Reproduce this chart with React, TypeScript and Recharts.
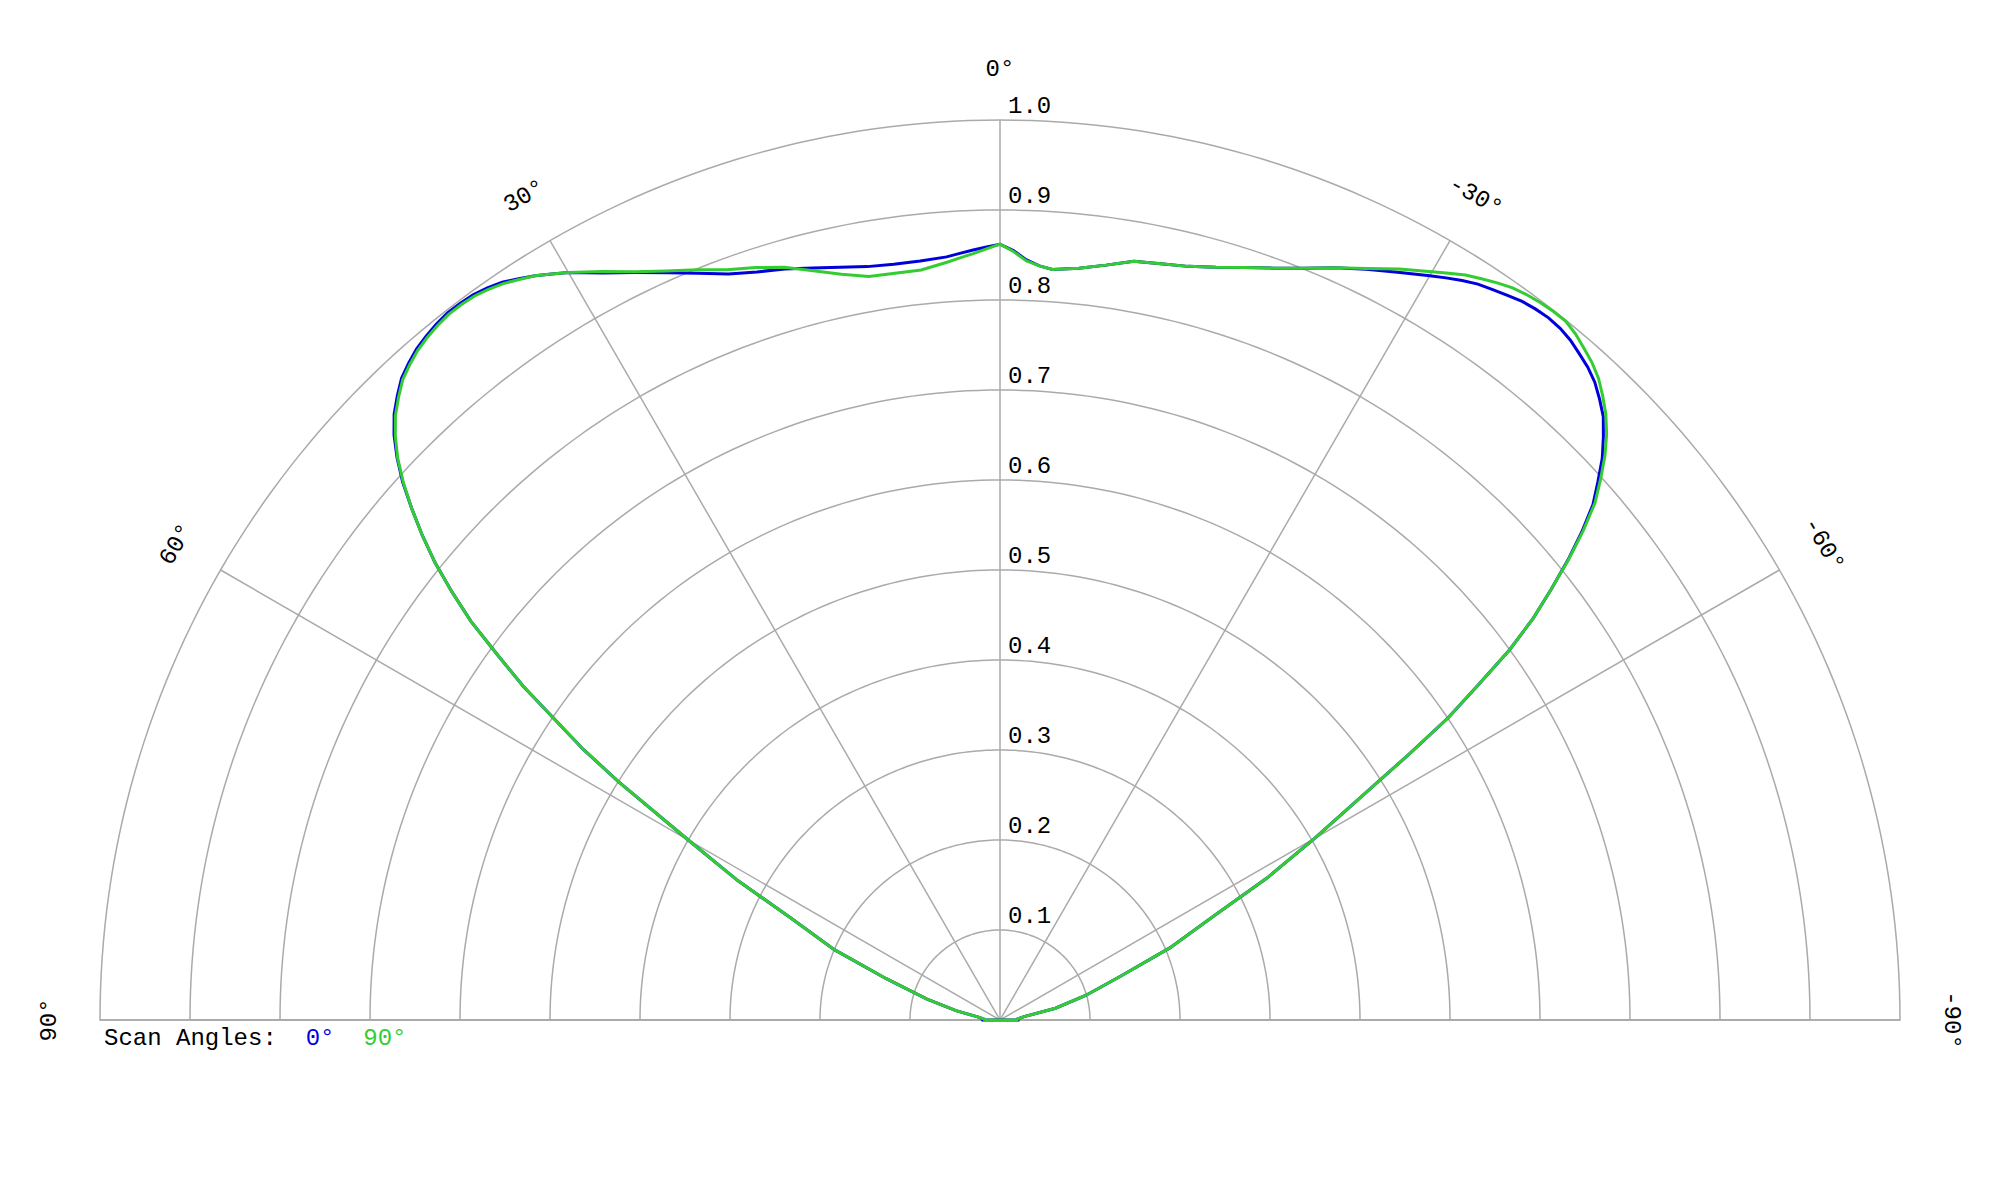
import React from 'react';
import {
  RadarChart,
  Radar,
  PolarGrid,
  PolarAngleAxis,
  PolarRadiusAxis,
  Legend,
} from 'recharts';

// scan angle in degrees: + is left of broadside, - is right
const angles = [
  -90, -86, -82, -78, -74, -70, -67, -64, -62, -60, -58,
  -57, -56, -55, -54, -53, -52, -51, -50, -49, -48, -47, -46, -45, -44,
  -43, -42, -41, -40, -39, -38, -37, -36, -35, -34, -33, -32, -31, -30,
  -28, -26, -24, -22, -20, -18, -16, -14, -12, -10, -8, -6, -4,
  -3, -2, -1, 0, 1, 2, 3,
  4, 6, 8, 10, 12, 14, 16, 18, 20, 22, 24, 26, 28,
  30, 31, 32, 33, 34, 35, 36, 37, 38, 39, 40, 41, 42, 43,
  44, 45, 46, 47, 48, 49, 50, 51, 52, 53, 54, 55, 56, 57,
  58, 60, 62, 64, 67, 70, 74, 78, 82, 86, 90,
];

const scan0 = [
  0.020, 0.020, 0.027, 0.063, 0.099, 0.143, 0.205, 0.266, 0.336, 0.404, 0.486,
  0.541, 0.601, 0.648, 0.700, 0.742, 0.777, 0.812, 0.844, 0.873, 0.894, 0.915, 0.932, 0.948, 0.959,
  0.969, 0.976, 0.981, 0.986, 0.989, 0.990, 0.989, 0.987, 0.983, 0.979, 0.975, 0.969, 0.962, 0.955,
  0.941, 0.928, 0.915, 0.901, 0.889, 0.879, 0.870, 0.863, 0.859, 0.856, 0.847, 0.840, 0.836,
  0.839, 0.845, 0.855, 0.862, 0.859, 0.856, 0.853,
  0.850, 0.848, 0.848, 0.850, 0.855, 0.861, 0.868, 0.874, 0.882, 0.895, 0.909, 0.924, 0.940,
  0.959, 0.967, 0.975, 0.982, 0.989, 0.993, 0.996, 0.997, 0.997, 0.995, 0.992, 0.988, 0.982, 0.975,
  0.964, 0.952, 0.936, 0.916, 0.893, 0.866, 0.838, 0.808, 0.773, 0.736, 0.690, 0.647, 0.596, 0.552,
  0.500, 0.400, 0.330, 0.259, 0.200, 0.135, 0.085, 0.050, 0.025, 0.019, 0.019,
];

const scan90 = [
  0.019, 0.020, 0.027, 0.063, 0.099, 0.143, 0.205, 0.266, 0.336, 0.404, 0.486,
  0.541, 0.601, 0.648, 0.700, 0.742, 0.777, 0.813, 0.846, 0.876, 0.898, 0.919, 0.937, 0.952, 0.964,
  0.975, 0.983, 0.989, 0.995, 0.999, 0.999, 0.998, 0.996, 0.993, 0.988, 0.982, 0.976, 0.968, 0.960,
  0.945, 0.929, 0.915, 0.901, 0.889, 0.879, 0.870, 0.863, 0.859, 0.856, 0.847, 0.840, 0.836,
  0.839, 0.844, 0.854, 0.862, 0.857, 0.852, 0.848,
  0.844, 0.838, 0.838, 0.839, 0.847, 0.858, 0.870, 0.879, 0.887, 0.899, 0.911, 0.925, 0.942,
  0.959, 0.967, 0.975, 0.981, 0.987, 0.991, 0.994, 0.995, 0.995, 0.993, 0.990, 0.986, 0.980, 0.973,
  0.962, 0.950, 0.934, 0.915, 0.892, 0.866, 0.838, 0.808, 0.773, 0.736, 0.690, 0.647, 0.596, 0.552,
  0.500, 0.400, 0.330, 0.259, 0.200, 0.135, 0.085, 0.050, 0.025, 0.018, 0.017,
];

const angleTicks = [-90, -60, -30, 0, 30, 60, 90];
const radiusTicks = [0.1, 0.2, 0.3, 0.4, 0.5, 0.6, 0.7, 0.8, 0.9, 1.0];

const rows = angles.map((angle, i) => ({
  angle,
  scan0: scan0[i],
  scan90: scan90[i],
}));

// polar angles (deg) used to trace the half-circle rings
const arcAngles = Array.from({ length: 181 }, (_, i) => i);

const FONT = "'Courier New', 'Liberation Mono', monospace";
const BLUE = '#0000dd';
const GREEN = '#33cc33';
const GRID = '#aaaaaa';

const AngleTick = (props: any) => {
  const { x, y, payload } = props;
  return (
    <text
      x={x}
      y={y}
      textAnchor="middle"
      dominantBaseline="central"
      fontFamily={FONT}
      fontSize={24}
      fill="#000"
      transform={`rotate(${-payload.value}, ${x}, ${y})`}
    >
      {`${payload.value}°`}
    </text>
  );
};

const RadiusTick = (props: any) => {
  const { x, y, payload } = props;
  return (
    <text x={x + 8} y={y - 7} textAnchor="start" fontFamily={FONT} fontSize={24} fill="#000">
      {Number(payload.value).toFixed(1)}
    </text>
  );
};

const ScanLegend = () => (
  <svg width={400} height={40}>
    <text x={4} y={28} fontFamily={FONT} fontSize={24} fill="#000" xmlSpace="preserve">
      <tspan>{'Scan Angles:  '}</tspan>
      <tspan fill={BLUE}>{'0°'}</tspan>
      <tspan>{'  '}</tspan>
      <tspan fill={GREEN}>{'90°'}</tspan>
    </text>
  </svg>
);

export default function App() {
  return (
    <div style={{ position: 'absolute', left: 0, top: 0, background: '#fff' }}>
      <RadarChart
        width={2000}
        height={1200}
        data={rows}
        cx={1000}
        cy={1020}
        outerRadius={900}
        startAngle={0}
        endAngle={180}
        margin={{ top: 0, right: 0, bottom: 0, left: 0 }}
      >
        <PolarGrid gridType="polygon" polarAngles={arcAngles} radialLines={false} stroke={GRID} strokeWidth={1.5} />
        <PolarGrid gridType="polygon" polarRadius={[]} stroke={GRID} strokeWidth={1.5} />
        <PolarAngleAxis
          type="number"
          dataKey="angle"
          domain={[-90, 90]}
          ticks={angleTicks}
          tick={AngleTick}
          tickLine={false}
          axisLine={false}
          tickSize={51}
        />
        <PolarRadiusAxis
          angle={90}
          type="number"
          domain={[0, 1]}
          ticks={radiusTicks}
          tick={RadiusTick}
          axisLine={false}
        />
        <Radar
          dataKey="scan0"
          stroke={BLUE}
          strokeWidth={3}
          fill="none"
          fillOpacity={0}
          dot={false}
          isAnimationActive={false}
        />
        <Radar
          dataKey="scan90"
          stroke={GREEN}
          strokeWidth={3}
          fill="none"
          fillOpacity={0}
          dot={false}
          isAnimationActive={false}
        />
        <Legend
          content={ScanLegend}
          wrapperStyle={{ position: 'absolute', left: 100, top: 1017, width: 400, height: 40 }}
        />
      </RadarChart>
    </div>
  );
}
